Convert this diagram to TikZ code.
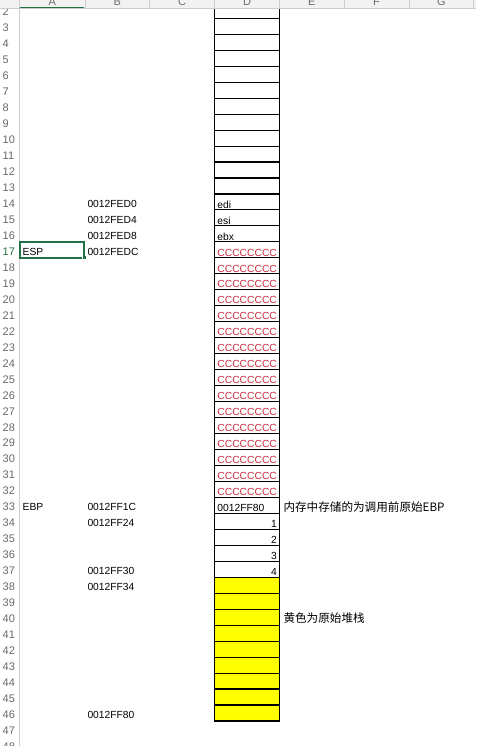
\documentclass[tikz,border=0pt]{standalone}
\usepackage{fontspec}
\setmainfont{Liberation Sans}
\newfontfamily\cjk{Noto Sans CJK SC}
\definecolor{hdrbg}{RGB}{242,242,242}
\definecolor{hdrline}{RGB}{205,205,205}
\definecolor{hdrtxt}{RGB}{110,110,110}
\definecolor{xlgreen}{RGB}{33,115,70}
\definecolor{ccred}{RGB}{205,45,60}
\definecolor{rownum}{RGB}{105,105,105}
\definecolor{yel}{RGB}{255,255,0}
\tikzset{
  cellbox/.style={draw=black, line width=1.1pt, minimum width=64.6pt, minimum height=15.97pt, inner sep=0pt, outer sep=0pt},
  txt/.style={font=\fontsize{10.3}{12}\selectfont, inner sep=0pt, text=black},
  lefttxt/.style={txt, anchor=base west},
  righttxt/.style={txt, anchor=base east},
  cctxt/.style={lefttxt, text=ccred},
  cjktxt/.style={font=\cjk\fontsize{11.6}{12}\selectfont, inner sep=0pt, anchor=base west},
  rownumtxt/.style={font=\fontsize{11}{12}\selectfont, inner sep=0pt, anchor=base west, text=rownum},
  coltxt/.style={font=\fontsize{11}{12}\selectfont, inner sep=0pt, anchor=base, text=hdrtxt},
  hdrsep/.style={draw=hdrline, line width=0.7pt},
  declare function={rb(\r)=18.3+(\r-2)*15.97;}
}
\begin{document}
\begin{tikzpicture}[x=1pt,y=-1pt]
\useasboundingbox (0,0) rectangle (476,746);
\clip (0,0) rectangle (476,746);
\fill[white] (0,0) rectangle (476,746);

% row numbers
\foreach \r in {2,...,48} {
  \ifnum\r=17 \def\rc{xlgreen}\else\def\rc{rownum}\fi
  \node[rownumtxt, text=\rc] (rn\r) at (2.5,{rb(\r)-2.5}) {\r};
}
\draw[hdrsep] (19.5,0) -- (19.5,746);

% stack cells in column D
\foreach \r in {2,...,46} {
  \ifnum\r>37 \def\fc{yel}\else\def\fc{white}\fi
  \node[cellbox, fill=\fc] (cell\r) at (247,{rb(\r)-7.985}) {};
}

% column D contents
\node[lefttxt] (d14) at ([xshift=2.5pt,yshift=1.8pt]cell14.south west) {edi};
\node[lefttxt] (d15) at ([xshift=2.5pt,yshift=1.8pt]cell15.south west) {esi};
\node[lefttxt] (d16) at ([xshift=2.5pt,yshift=1.8pt]cell16.south west) {ebx};
\foreach \r in {17,...,32} {
  \node[cctxt] (d\r) at ([xshift=2.5pt,yshift=1.8pt]cell\r.south west) {CCCCCCCC};
}
\node[lefttxt] (d33) at ([xshift=2.5pt,yshift=1.8pt]cell33.south west) {0012FF80};
\node[righttxt] (d34) at ([xshift=-2.3pt,yshift=1.8pt]cell34.south east) {1};
\node[righttxt] (d35) at ([xshift=-2.3pt,yshift=1.8pt]cell35.south east) {2};
\node[righttxt] (d36) at ([xshift=-2.3pt,yshift=1.8pt]cell36.south east) {3};
\node[righttxt] (d37) at ([xshift=-2.3pt,yshift=1.8pt]cell37.south east) {4};

% column B addresses
\node[lefttxt] (b14) at (87.3,{rb(14)-2.5}) {0012FED0};
\node[lefttxt] (b15) at (87.3,{rb(15)-2.5}) {0012FED4};
\node[lefttxt] (b16) at (87.3,{rb(16)-2.5}) {0012FED8};
\node[lefttxt] (b17) at (87.3,{rb(17)-2.5}) {0012FEDC};
\node[lefttxt] (b33) at (87.3,{rb(33)-2.5}) {0012FF1C};
\node[lefttxt] (b34) at (87.3,{rb(34)-2.5}) {0012FF24};
\node[lefttxt] (b37) at (87.3,{rb(37)-2.5}) {0012FF30};
\node[lefttxt] (b38) at (87.3,{rb(38)-2.5}) {0012FF34};
\node[lefttxt] (b46) at (87.3,{rb(46)-2.5}) {0012FF80};

% column A labels
\node[lefttxt] (a17) at (22.5,{rb(17)-2.5}) {ESP};
\node[lefttxt] (a33) at (22.5,{rb(33)-2.5}) {EBP};

% column E notes
\node[cjktxt] (e33) at (283.3,{rb(33)-2.3}) {内存中存储的为调用前原始EBP};
\node[cjktxt] (e40) at (283.3,{rb(40)-2.3}) {黄色为原始堆栈};

% selected cell A17
\draw[xlgreen, line width=1.4pt] (19.8,{rb(16)}) rectangle (83.8,{rb(17)});
\fill[white] (82.2,{rb(17)-2.2}) rectangle (86.6,{rb(17)+2.2});
\fill[xlgreen] (82.8,{rb(17)-1.6}) rectangle (86,{rb(17)+1.6});

% column header band
\fill[hdrbg] (0,0) rectangle (476,8.3);
\draw[hdrsep] (0,8.3) -- (476,8.3);
\foreach \x in {19.5,85,149.8,214.6,279.3,344.2,409,473.6} {
  \draw[hdrsep] (\x,0) -- (\x,8.3);
}
\node[coltxt] (hA) at (52.2,5.3) {A};
\node[coltxt] (hB) at (117.4,5.3) {B};
\node[coltxt] (hC) at (182.2,5.3) {C};
\node[coltxt] (hD) at (247,5.3) {D};
\node[coltxt] (hE) at (311.8,5.3) {E};
\node[coltxt] (hF) at (376.6,5.3) {F};
\node[coltxt] (hG) at (441.3,5.3) {G};
\draw[xlgreen, line width=1.6pt] (20.2,7.6) -- (84.4,7.6);
\end{tikzpicture}
\end{document}
